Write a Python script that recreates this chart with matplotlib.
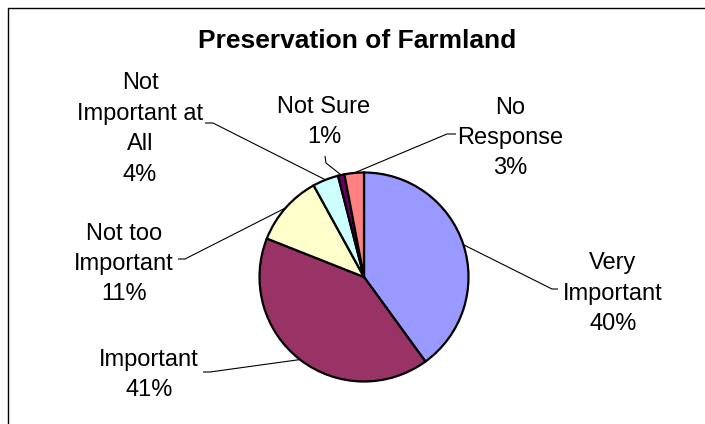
import matplotlib
matplotlib.use("Agg")
import matplotlib.pyplot as plt
from matplotlib.lines import Line2D
import numpy as np

# data
categories = ["Very\nImportant", "Important", "Not too\nImportant",
              "Not\nImportant at\nAll", "Not Sure", "No\nResponse"]
percents = [40, 41, 11, 4, 1, 3]
colors = ["#9999FF", "#993366", "#FFFFCC", "#CCFFFF", "#660066", "#FF8080"]

W, H = 705, 424


def py(y):
    # pixel row (from top) -> axes y (from bottom)
    return H - y


# label layout, pixel coords from top-left
label_xy = [(613, 294), (149, 375), (124, 264), (140, 129), (324, 122), (510, 138)]
leader_start = [(558, 289), (203, 372), (178, 259), (205, 123), (325, 156), (456, 134)]
leader_elbow = [(552, 289), (210, 372), (185, 259), (213, 123), (326, 163), (447, 134)]

plt.rcParams["font.family"] = ["Liberation Sans", "DejaVu Sans"]

fig = plt.figure(figsize=(W / 100, H / 100), dpi=100)
ax = fig.add_axes([0, 0, 1, 1])

cx, cy, r = 364, py(277), 104.5
wedges, _ = ax.pie(percents, colors=colors, startangle=90, counterclock=False,
                   center=(cx, cy), radius=r, frame=True,
                   wedgeprops=dict(edgecolor="black", linewidth=1.6))
ax.set_xlim(0, W)
ax.set_ylim(0, H)
ax.set_aspect("equal")
ax.axis("off")

# labels + leader lines
for w, cat, p, (lx, ly), (sx, sy), (ex, ey) in zip(wedges, categories, percents,
                                                   label_xy, leader_start, leader_elbow):
    ax.text(lx, py(ly), f"{cat}\n{p}%", ha="center", va="center",
            multialignment="center", fontsize=17, linespacing=1.5, color="black")
    mid = np.deg2rad((w.theta1 + w.theta2) / 2)
    px_, py_ = cx + r * np.cos(mid), cy + r * np.sin(mid)
    ax.plot([sx, ex, px_], [py(sy), py(ey), py_], color="black", lw=0.8,
            solid_capstyle="butt", zorder=3)

ax.text(357, py(48), "Preservation of Farmland", ha="center", va="baseline",
        fontsize=19, fontweight="bold")

# chart-area border (only left and top edges fall inside the crop)
fig.add_artist(Line2D([8 / W, 8 / W, 1], [0, 1 - 8 / H, 1 - 8 / H],
                      transform=fig.transFigure, color="black", lw=1))

fig.savefig("out.png", dpi=100)
